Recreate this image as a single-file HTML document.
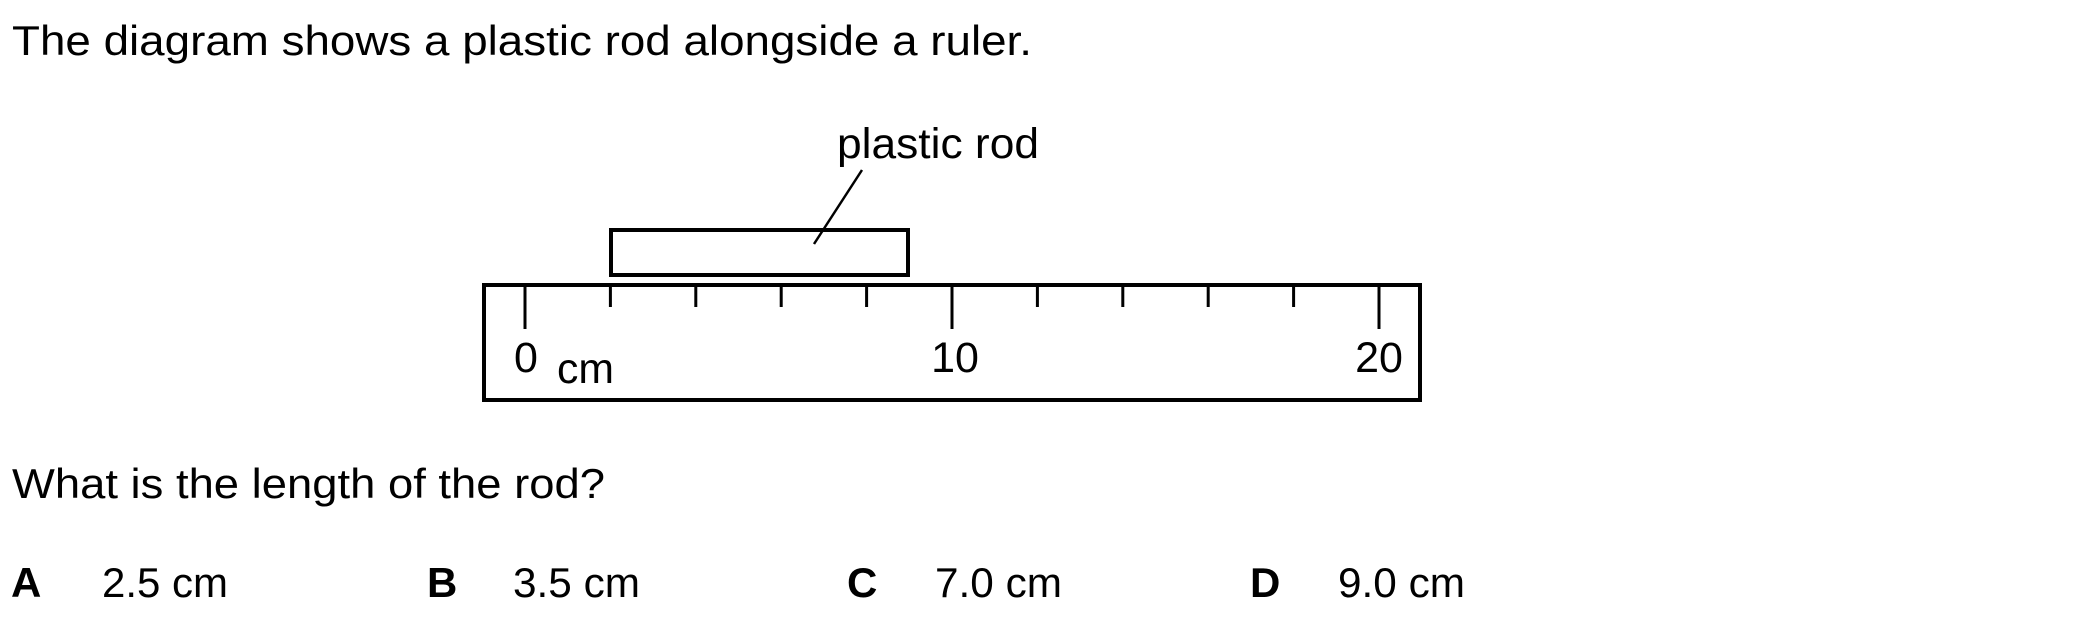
<!DOCTYPE html>
<html><head><meta charset="utf-8"><style>
html,body{margin:0;padding:0;background:#fff;}
svg{display:block;}
text{font-family:"Liberation Sans",Arial,sans-serif;fill:#000;}
</style></head><body>
<svg width="2100" height="620" viewBox="0 0 2100 620" xmlns="http://www.w3.org/2000/svg">
<text x="12" y="55" font-size="42" textLength="1020" lengthAdjust="spacingAndGlyphs">The diagram shows a plastic rod alongside a ruler.</text>
<text x="837" y="158" font-size="43" textLength="202" lengthAdjust="spacingAndGlyphs">plastic rod</text>
<line x1="862" y1="170" x2="814" y2="244" stroke="#000" stroke-width="2.5"/>
<rect x="611" y="230" width="297" height="45" fill="none" stroke="#000" stroke-width="4"/>
<rect x="484" y="285" width="936" height="115" fill="none" stroke="#000" stroke-width="4"/>
<g stroke="#000" stroke-width="3">
<line x1="525" y1="285" x2="525" y2="329"/>
<line x1="610.4" y1="285" x2="610.4" y2="307"/>
<line x1="695.8" y1="285" x2="695.8" y2="307"/>
<line x1="781.2" y1="285" x2="781.2" y2="307"/>
<line x1="866.6" y1="285" x2="866.6" y2="307"/>
<line x1="952" y1="285" x2="952" y2="329"/>
<line x1="1037.4" y1="285" x2="1037.4" y2="307"/>
<line x1="1122.8" y1="285" x2="1122.8" y2="307"/>
<line x1="1208.2" y1="285" x2="1208.2" y2="307"/>
<line x1="1293.6" y1="285" x2="1293.6" y2="307"/>
<line x1="1379" y1="285" x2="1379" y2="329"/>
</g>
<text x="526" y="372" font-size="43" text-anchor="middle">0</text>
<text x="557" y="383" font-size="43" textLength="57" lengthAdjust="spacingAndGlyphs">cm</text>
<text x="955" y="372" font-size="43" text-anchor="middle">10</text>
<text x="1379" y="372" font-size="43" text-anchor="middle">20</text>
<text x="12" y="498" font-size="42" textLength="593" lengthAdjust="spacingAndGlyphs">What is the length of the rod?</text>
<g font-size="42">
<text x="11" y="597" font-weight="bold">A</text>
<text x="102" y="597" textLength="126" lengthAdjust="spacingAndGlyphs">2.5 cm</text>
<text x="427" y="597" font-weight="bold">B</text>
<text x="513" y="597" textLength="127" lengthAdjust="spacingAndGlyphs">3.5 cm</text>
<text x="847" y="597" font-weight="bold">C</text>
<text x="935" y="597" textLength="127" lengthAdjust="spacingAndGlyphs">7.0 cm</text>
<text x="1250" y="597" font-weight="bold">D</text>
<text x="1338" y="597" textLength="127" lengthAdjust="spacingAndGlyphs">9.0 cm</text>
</g>
</svg>
</body></html>
